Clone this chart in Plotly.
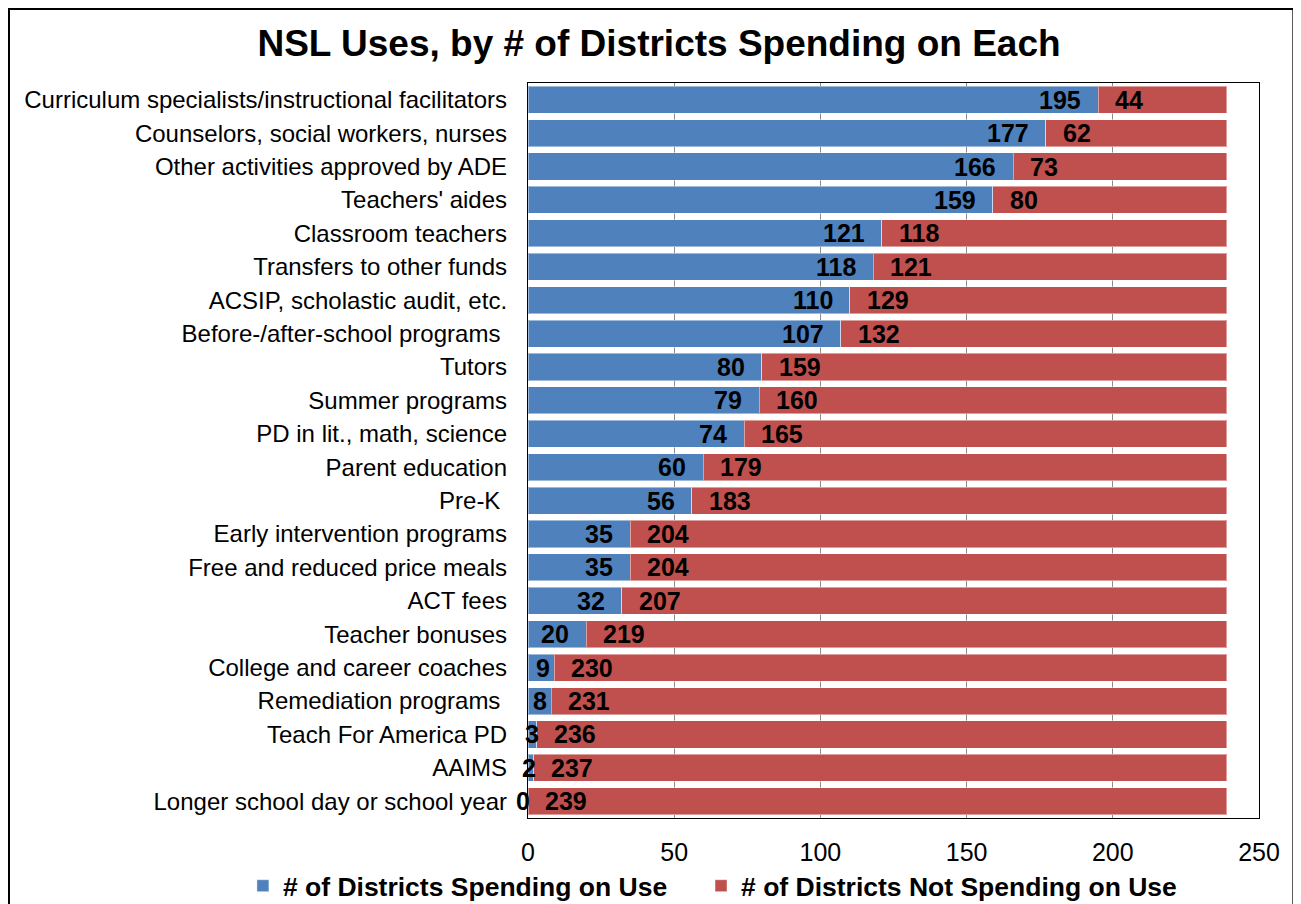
import plotly.graph_objects as go

categories = [
    "Curriculum specialists/instructional facilitators",
    "Counselors, social workers, nurses",
    "Other activities approved by ADE",
    "Teachers' aides",
    "Classroom teachers",
    "Transfers to other funds",
    "ACSIP, scholastic audit, etc.",
    "Before-/after-school programs\u00a0",
    "Tutors",
    "Summer programs",
    "PD in lit., math, science",
    "Parent education",
    "Pre-K\u00a0",
    "Early intervention programs",
    "Free and reduced price meals",
    "ACT fees",
    "Teacher bonuses",
    "College and career coaches",
    "Remediation programs\u00a0",
    "Teach For America PD",
    "AAIMS",
    "Longer school day or school year",
]
spending = [195, 177, 166, 159, 121, 118, 110, 107, 80, 79, 74, 60, 56,
            35, 35, 32, 20, 9, 8, 3, 2, 0]
not_spending = [44, 62, 73, 80, 118, 121, 129, 132, 159, 160, 165, 179, 183,
                204, 204, 207, 219, 230, 231, 236, 237, 239]

FONT = "Liberation Sans, Arial, sans-serif"
BLUE = "#4F81BD"
RED = "#C0504D"
EDGE = dict(color="rgba(255,255,255,0.45)", width=1)

fig = go.Figure()
fig.add_trace(go.Bar(
    y=categories, x=spending, orientation="h",
    name="# of Districts Spending on Use",
    marker=dict(color=BLUE, line=EDGE),
    legend="legend",
))
fig.add_trace(go.Bar(
    y=categories, x=not_spending, orientation="h",
    name="# of Districts Not Spending on Use",
    marker=dict(color=RED, line=EDGE),
    legend="legend2",
))

# data labels: blue at inside end, red at inside base
label_font = dict(family=FONT, size=25, color="black", weight="bold")
annotations = []
for cat, s, n in zip(categories, spending, not_spending):
    if s >= 15:
        shift = -15
    elif s >= 5:
        shift = -2
    else:
        shift = 4
    annotations.append(dict(x=s, y=cat, text=str(s), showarrow=False,
                            xanchor="right", xshift=shift, yanchor="middle",
                            font=label_font))
    annotations.append(dict(x=s, y=cat, text=str(n), showarrow=False,
                            xanchor="left", xshift=15, yanchor="middle",
                            font=label_font))

legend_font = dict(family=FONT, size=26.5, color="black", weight="bold")

# the page adds an 8px body margin, so the figure is 8px smaller
fig.update_layout(
    barmode="stack",
    bargap=0.19,
    width=1293,
    height=896,
    margin=dict(l=520, r=42, t=75, b=86, autoexpand=False),
    paper_bgcolor="white",
    plot_bgcolor="white",
    font=dict(family=FONT, color="black"),
    title=dict(
        text="NSL Uses, by # of Districts Spending on Each",
        font=dict(family=FONT, size=37, color="black", weight="bold"),
        x=0.5035, xref="container", xanchor="center",
        y=0.9604, yref="container", yanchor="middle",
    ),
    showlegend=True,
    legend=dict(
        orientation="h", x=-0.39, xanchor="left",
        y=-0.0925, yanchor="middle",
        font=legend_font, bgcolor="rgba(0,0,0,0)",
    ),
    legend2=dict(
        orientation="h", x=0.2367, xanchor="left",
        y=-0.0925, yanchor="middle",
        font=legend_font, bgcolor="rgba(0,0,0,0)",
    ),
    annotations=annotations,
    shapes=[dict(
        type="rect", xref="paper", yref="paper",
        x0=-0.710, x1=1.047, y0=-0.15, y1=1.1007,
        line=dict(color="black", width=2), fillcolor="rgba(0,0,0,0)",
        layer="below",
    )],
)

fig.update_xaxes(
    range=[0, 250], dtick=50, tick0=0,
    showgrid=True, gridcolor="#8C8C8C", gridwidth=1,
    showline=True, linecolor="black", linewidth=1.3, mirror=True,
    ticks="", ticklabelstandoff=12,
    tickfont=dict(family=FONT, size=25, color="black"),
    zeroline=False,
)
fig.update_yaxes(
    categoryorder="array", categoryarray=categories,
    autorange="reversed",
    showgrid=False,
    showline=True, linecolor="black", linewidth=1.3, mirror=True,
    ticks="", ticklabelstandoff=15,
    tickfont=dict(family=FONT, size=24, color="black"),
)

fig.write_html("out.html")
